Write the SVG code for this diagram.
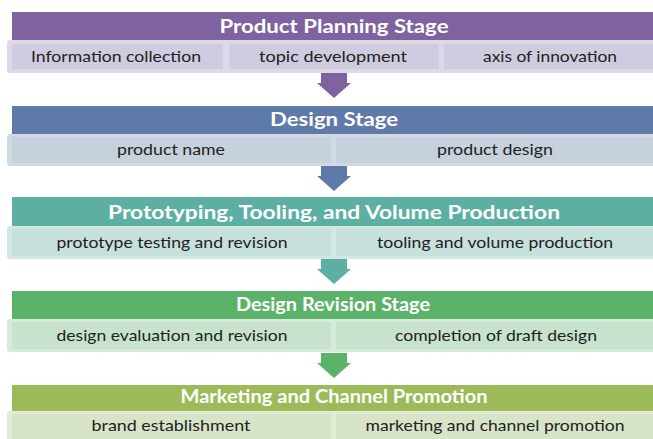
<svg xmlns="http://www.w3.org/2000/svg" width="653" height="439" viewBox="0 0 653 439">
  <style>
    .hd { font-family: Lato, "Open Sans", "Liberation Sans", sans-serif; font-weight: 700; font-size: 18.5px; fill: #ffffff; text-anchor: middle; }
    .sub { font-family: Lato, "Open Sans", "Liberation Sans", sans-serif; font-size: 15px; fill: #222222; text-anchor: middle; }
  </style>
  <defs>
    <path id="arrow" d="M-13 0 H13 V10 H17 L0 25 L-17 10 H-13 Z"/>
  </defs>
  <rect width="653" height="439" fill="#ffffff"/>

  <!-- Stage 1 -->
  <g id="stage-planning">
    <rect x="12" y="12" width="641" height="28" fill="#7F62A0"/>
    <rect x="7" y="40" width="650" height="33" rx="3" fill="#DCDAE6"/>
    <rect x="12" y="44" width="211" height="25" fill="#CFCCDF"/>
    <rect x="229" y="44" width="210" height="25" fill="#CFCCDF"/>
    <rect x="444" y="44" width="209" height="25" fill="#CFCCDF"/>
    <text class="hd" x="334" y="33" textLength="229" lengthAdjust="spacingAndGlyphs">Product Planning Stage</text>
    <text class="sub" x="116" y="62" textLength="170" lengthAdjust="spacingAndGlyphs">Information collection</text>
    <text class="sub" x="333" y="62" textLength="148" lengthAdjust="spacingAndGlyphs">topic development</text>
    <text class="sub" x="550" y="62" textLength="134" lengthAdjust="spacingAndGlyphs">axis of innovation</text>
  </g>

  <!-- Stage 2 -->
  <g id="stage-design">
    <rect x="12" y="106" width="641" height="28" fill="#5F79A9"/>
    <rect x="7" y="134" width="650" height="32" rx="3" fill="#D0DAE2"/>
    <rect x="12" y="137" width="319" height="26" fill="#C5D1DB"/>
    <rect x="336" y="137" width="317" height="26" fill="#C5D1DB"/>
    <text class="hd" x="334" y="126" textLength="128" lengthAdjust="spacingAndGlyphs">Design Stage</text>
    <text class="sub" x="171" y="155" textLength="108" lengthAdjust="spacingAndGlyphs">product name</text>
    <text class="sub" x="495" y="155" textLength="116" lengthAdjust="spacingAndGlyphs">product design</text>
  </g>

  <!-- Stage 3 -->
  <g id="stage-prototyping">
    <rect x="12" y="197" width="641" height="29" fill="#5DAFA3"/>
    <rect x="7" y="226" width="650" height="33" rx="3" fill="#D3E8E4"/>
    <rect x="12" y="229" width="319" height="27" fill="#C6E0DB"/>
    <rect x="336" y="229" width="317" height="27" fill="#C6E0DB"/>
    <text class="hd" x="334" y="219" textLength="452" lengthAdjust="spacingAndGlyphs">Prototyping, Tooling, and Volume Production</text>
    <text class="sub" x="172" y="248" textLength="231" lengthAdjust="spacingAndGlyphs">prototype testing and revision</text>
    <text class="sub" x="495" y="248" textLength="236" lengthAdjust="spacingAndGlyphs">tooling and volume production</text>
  </g>

  <!-- Stage 4 -->
  <g id="stage-revision">
    <rect x="12" y="291" width="641" height="28" fill="#5BB36A"/>
    <rect x="7" y="319" width="650" height="33" rx="3" fill="#D6EBD9"/>
    <rect x="12" y="322" width="319" height="27" fill="#C8E3CD"/>
    <rect x="336" y="322" width="317" height="27" fill="#C8E3CD"/>
    <text class="hd" x="333" y="311" textLength="194" lengthAdjust="spacingAndGlyphs">Design Revision Stage</text>
    <text class="sub" x="172" y="341" textLength="231" lengthAdjust="spacingAndGlyphs">design evaluation and revision</text>
    <text class="sub" x="496" y="341" textLength="202" lengthAdjust="spacingAndGlyphs">completion of draft design</text>
  </g>

  <!-- Stage 5 -->
  <g id="stage-marketing">
    <rect x="12" y="385" width="641" height="26" fill="#9CBB58"/>
    <rect x="7" y="411" width="650" height="33" rx="3" fill="#E3EBD6"/>
    <rect x="12" y="414" width="319" height="30" fill="#D8E4C8"/>
    <rect x="336" y="414" width="317" height="30" fill="#D8E4C8"/>
    <text class="hd" x="334" y="403" textLength="307" lengthAdjust="spacingAndGlyphs">Marketing and Channel Promotion</text>
    <text class="sub" x="171" y="431" textLength="159" lengthAdjust="spacingAndGlyphs">brand establishment</text>
    <text class="sub" x="495" y="431" textLength="259" lengthAdjust="spacingAndGlyphs">marketing and channel promotion</text>
  </g>

  <!-- Connectors between stages -->
  <g id="connectors">
    <use href="#arrow" x="334" y="73" fill="#7F62A0"/>
    <use href="#arrow" x="334" y="166" fill="#5F79A9"/>
    <use href="#arrow" x="334" y="259" fill="#5DAFA3"/>
    <use href="#arrow" x="334" y="353" fill="#5BB36A"/>
  </g>
</svg>
